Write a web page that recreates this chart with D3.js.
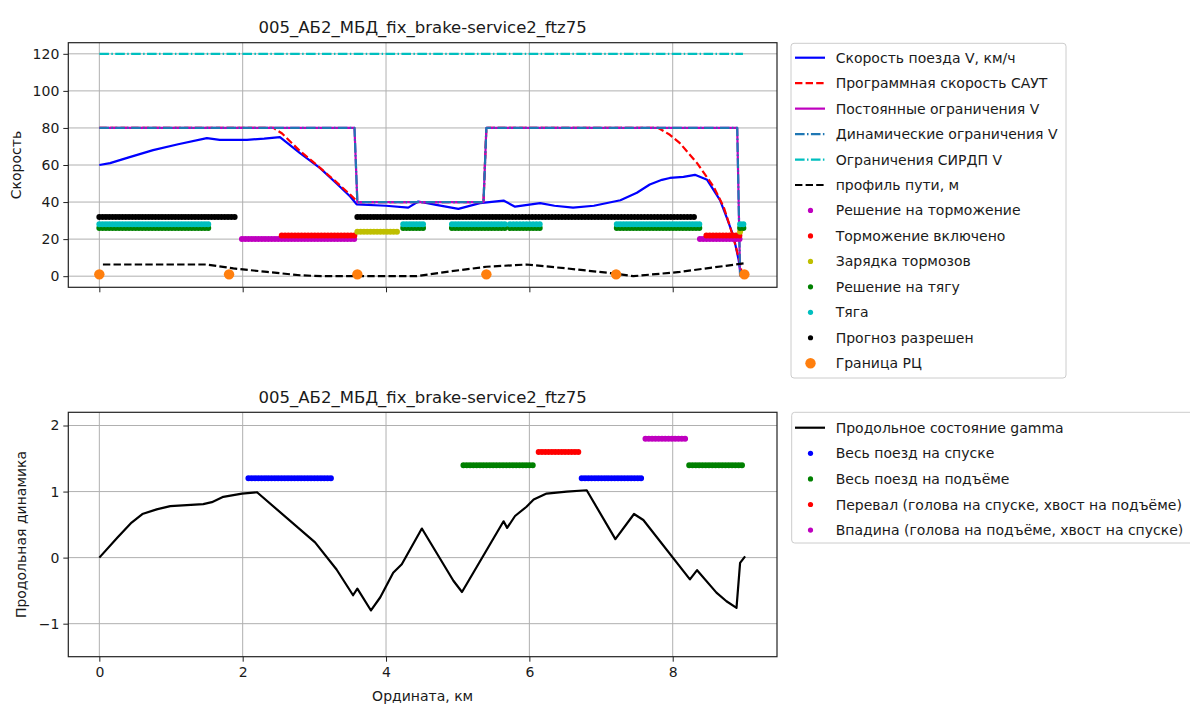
<!DOCTYPE html>
<html><head><meta charset="utf-8">
<script src="https://cdn.jsdelivr.net/npm/d3@7/dist/d3.min.js"></script>
<style>
html,body{margin:0;padding:0;background:#fff;}
svg{display:block;font-family:"DejaVu Sans",sans-serif;}
</style></head>
<body>
<svg id="c" width="1190" height="707"></svg>
<script>
// ---------------- DATA ----------------
const chartTitle = "005_АБ2_МБД_fix_brake-service2_ftz75";
const xTicks = [0, 2, 4, 6, 8];
const yTicksTop = [0, 20, 40, 60, 80, 100, 120];
const yTicksBottom = [-1, 0, 1, 2];

// train speed V, km/h  [km, value]
const speedV = [[0,60],[0.15,61],[0.4,64],[0.75,68],[1.1,71.2],[1.5,74.5],[1.68,73.6],[2.06,73.6],[2.3,74.2],[2.52,75],
  [2.8,66.4],[3.08,58.3],[3.31,50],[3.5,43],[3.59,38.8],[4.0,38],[4.31,37],[4.45,40.3],[4.7,38.5],[5.01,36.3],[5.31,39.4],
  [5.64,40.8],[5.8,37.5],[6.15,39.4],[6.35,38],[6.61,37],[6.9,38],[7.27,41],[7.5,45],[7.68,49.5],[7.85,52],[7.96,53],
  [8.15,53.6],[8.31,54.7],[8.48,52],[8.66,41],[8.75,32],[8.85,21.3],[8.92,8.7],[8.95,0.5]];
// programme speed САУТ
const progSpeed = [[0,80],[2.43,80],[2.55,77],[2.8,67.5],[3.05,59.5],[3.3,51],[3.5,44],[3.58,41],[3.6,40],[5.36,40],[5.4,80],
  [7.8,80],[7.96,76.3],[8.1,71.8],[8.34,61],[8.57,48.3],[8.71,37.5],[8.8,26.7],[8.88,16],[8.94,7],[8.97,0]];
// constant speed limits
const constLimit = [[0,80],[3.56,80],[3.6,40],[5.36,40],[5.4,80],[8.9,80],[8.94,0]];
// dynamic speed limits
const dynLimit = [[0,80],[3.56,80],[3.6,40],[5.36,40],[5.4,80],[8.9,80],[8.94,0]];
// СИРДП limits
const sirdpLimit = [[0,120],[8.98,120]];
// track profile, m
const trackProfile = [[0.05,6.3],[1.5,6.3],[1.87,4.2],[2.34,2.3],[2.8,0.5],[3.1,0],[4.43,0],[4.9,2.6],[5.4,5.1],[5.96,6.3],
  [6.52,4.2],[7.17,1.5],[7.45,0],[8.1,2.3],[8.99,6.9]];

// state markers: [start km, end km] at a fixed level
const brakeDecisionSeg = [[1.99,3.59],[8.38,8.94]];          // level 20
const brakeOnSeg = [[2.545,3.59],[8.47,8.94]];               // level 22
const brakeChargeSeg = [[3.6,4.17],[8.94,8.96]];             // level 24
const tractionDecisionSeg = [[0,1.53],[4.24,4.54],[4.92,5.68],[5.73,6.17],[7.22,8.38],[8.94,9.02]]; // level 26
const tractionSeg = [[0,1.53],[4.24,4.54],[4.92,5.68],[5.73,6.17],[7.22,8.38],[8.94,9.02]];         // level 28
const forecastSeg = [[0,1.93],[3.6,8.31]];                   // level 32
const levels = {brakeDecision:20, brakeOn:22, brakeCharge:24, tractionDecision:26, traction:28, forecast:32};
// track circuit boundaries
const rcBoundX = [0, 1.81, 3.6, 5.4, 7.21, 9.0];
const rcBoundY = 1;

// longitudinal state gamma
const gamma = [[0,0],[0.25,0.3],[0.45,0.53],[0.6,0.66],[0.8,0.73],[0.99,0.78],[1.45,0.81],[1.57,0.84],[1.73,0.92],[1.99,0.97],[2.2,0.99],
  [3.01,0.23],[3.31,-0.18],[3.54,-0.57],[3.6,-0.47],[3.79,-0.8],[3.92,-0.6],[4.1,-0.23],[4.22,-0.1],[4.5,0.44],[4.94,-0.35],
  [5.06,-0.52],[5.64,0.55],[5.69,0.45],[5.8,0.63],[5.96,0.77],[6.06,0.88],[6.24,0.97],[6.52,1.0],[6.8,1.02],[7.2,0.28],
  [7.46,0.66],[7.59,0.57],[8.24,-0.33],[8.34,-0.19],[8.61,-0.53],[8.75,-0.66],[8.89,-0.76],[8.94,-0.08],[9.01,0.02]];
const descentSeg = [[2.08,3.24],[6.73,7.58]];   // 1.2
const ascentSeg = [[5.08,6.08],[8.23,8.98]];    // 1.4
const passSeg = [[6.13,6.69]];                  // 1.6
const valleySeg = [[7.62,8.18]];                // 1.8
const levels2 = {descent:1.2, ascent:1.4, pass:1.6, valley:1.8};

const legendTop = ["Скорость поезда V, км/ч","Программная скорость САУТ","Постоянные ограничения V","Динамические ограничения V",
  "Ограничения СИРДП V","профиль пути, м","Решение на торможение","Торможение включено","Зарядка тормозов",
  "Решение на тягу","Тяга","Прогноз разрешен","Граница РЦ"];
const legendBottom = ["Продольное состояние gamma","Весь поезд на спуске","Весь поезд на подъёме",
  "Перевал (голова на спуске, хвост на подъёме)","Впадина (голова на подъёме, хвост на спуске)"];

// ---------------- STYLE ----------------
const C = {blue:"#0000ff", red:"#ff0000", mag:"#bf00bf", c0:"#1f77b4", cyan:"#00bfbf", black:"#000000",
  olive:"#bfbf00", green:"#008000", orange:"#ff7f0e"};
const DASH = "7.4,3.2", DASHDOT = "9.6,2.4,1.5,2.4";
const LW = 2.2;

const svg = d3.select("#c");
const X0 = 68.3, X1 = 777;
const x = d3.scaleLinear().domain([-0.433, 9.455]).range([X0, X1]);
const yT = d3.scaleLinear().domain([-6, 126]).range([287.3, 42.7]);
const yB = d3.scaleLinear().domain([-1.5, 2.2]).range([656.7, 412.3]);

function frame(y, yTicks, id){
  const g = svg.append("g");
  const [b, t] = y.range();
  g.selectAll(null).data(xTicks).join("line").attr("x1",d=>x(d)).attr("x2",d=>x(d)).attr("y1",t).attr("y2",b)
    .attr("stroke","#b0b0b0").attr("stroke-width",1);
  g.selectAll(null).data(yTicks).join("line").attr("x1",X0).attr("x2",X1).attr("y1",d=>y(d)).attr("y2",d=>y(d))
    .attr("stroke","#b0b0b0").attr("stroke-width",1);
  svg.append("clipPath").attr("id",id).append("rect").attr("x",X0).attr("y",t).attr("width",X1-X0).attr("height",b-t);
  return g;
}
function axes(y, yTicks, yFmt, showXLabels){
  const [b, t] = y.range();
  const ax = svg.append("g").attr("transform",`translate(0,${b})`)
    .call(d3.axisBottom(x).tickValues(xTicks).tickSize(5).tickPadding(5).tickFormat(showXLabels ? d3.format("d") : ""));
  const ay = svg.append("g").attr("transform",`translate(${X0},0)`)
    .call(d3.axisLeft(y).tickValues(yTicks).tickSize(5).tickPadding(4).tickFormat(yFmt));
  [ax, ay].forEach(a=>{
    a.select(".domain").remove();
    a.selectAll("line").attr("stroke","#222").attr("stroke-width",1);
    a.selectAll("text").attr("font-size","14px").attr("fill","#1a1a1a").attr("font-family","DejaVu Sans");
  });
  svg.append("rect").attr("x",X0).attr("y",t).attr("width",X1-X0).attr("height",b-t)
    .attr("fill","none").attr("stroke","#222").attr("stroke-width",1.2);
}

function linePath(g, data, y, color, w, dash){
  g.append("path").datum(data).attr("d", d3.line().x(d=>x(d[0])).y(d=>y(d[1])))
    .attr("fill","none").attr("stroke",color).attr("stroke-width",w).attr("stroke-dasharray",dash||null)
    .attr("stroke-linejoin","round");
}
function dotBands(g, segs, level, y, color, size){
  g.selectAll(null).data(segs).join("line")
    .attr("x1",d=>x(d[0])).attr("x2",d=>x(d[1])).attr("y1",y(level)).attr("y2",y(level))
    .attr("stroke",color).attr("stroke-width",size).attr("stroke-linecap","round").attr("stroke-dasharray","0,3.3");
}

// ---------- TOP ----------
frame(yT, yTicksTop, "clipT");
const pT = svg.append("g").attr("clip-path","url(#clipT)");
linePath(pT, speedV, yT, C.blue, LW);
linePath(pT, progSpeed, yT, C.red, LW, DASH);
linePath(pT, constLimit, yT, C.mag, LW);
linePath(pT, dynLimit, yT, C.c0, LW, DASHDOT);
linePath(pT, sirdpLimit, yT, C.cyan, LW, DASHDOT);
linePath(pT, trackProfile, yT, C.black, LW, DASH);
dotBands(pT, brakeDecisionSeg, levels.brakeDecision, yT, C.mag, 6);
dotBands(pT, brakeOnSeg, levels.brakeOn, yT, C.red, 6);
dotBands(pT, brakeChargeSeg, levels.brakeCharge, yT, C.olive, 6);
dotBands(pT, tractionDecisionSeg, levels.tractionDecision, yT, C.green, 6);
dotBands(pT, tractionSeg, levels.traction, yT, C.cyan, 6);
dotBands(pT, forecastSeg, levels.forecast, yT, C.black, 6);
pT.selectAll(null).data(rcBoundX).join("circle").attr("cx",d=>x(d)).attr("cy",yT(rcBoundY)).attr("r",5.2).attr("fill",C.orange);
axes(yT, yTicksTop, d3.format("d"), false);

// ---------- BOTTOM ----------
frame(yB, yTicksBottom, "clipB");
const pB = svg.append("g").attr("clip-path","url(#clipB)");
linePath(pB, gamma, yB, C.black, LW);
dotBands(pB, descentSeg, levels2.descent, yB, C.blue, 6);
dotBands(pB, ascentSeg, levels2.ascent, yB, C.green, 6);
dotBands(pB, passSeg, levels2.pass, yB, C.red, 6);
dotBands(pB, valleySeg, levels2.valley, yB, C.mag, 6);
axes(yB, yTicksBottom, d=>d<0 ? "\u2212"+Math.abs(d) : String(d), true);

// titles & labels
const tx = (X0+X1)/2;
svg.append("text").attr("x",tx).attr("y",33.3).attr("text-anchor","middle").attr("font-size","16.5px").attr("fill","#1a1a1a").text(chartTitle);
svg.append("text").attr("x",tx).attr("y",402.7).attr("text-anchor","middle").attr("font-size","16.5px").attr("fill","#1a1a1a").text(chartTitle);
svg.append("text").attr("transform",`translate(21,165) rotate(-90)`).attr("text-anchor","middle").attr("font-size","14px").attr("fill","#1a1a1a").text("Скорость");
svg.append("text").attr("transform",`translate(25.5,534.5) rotate(-90)`).attr("text-anchor","middle").attr("font-size","14px").attr("fill","#1a1a1a").text("Продольная динамика");
svg.append("text").attr("x",tx).attr("y",701).attr("text-anchor","middle").attr("font-size","14px").attr("fill","#1a1a1a").text("Ордината, км");

// ---------- LEGENDS ----------
function legend(x0, y0, w, h, rowY0, step, labels, handles){
  const g = svg.append("g");
  g.append("rect").attr("x",x0).attr("y",y0).attr("width",w).attr("height",h).attr("rx",3)
    .attr("fill","#fff").attr("fill-opacity",0.8).attr("stroke","#cccccc").attr("stroke-width",1);
  labels.forEach((lab,i)=>{
    const cy = rowY0 + i*step, hd = handles[i];
    if(hd.type==="line"){
      g.append("line").attr("x1",795).attr("x2",825).attr("y1",cy).attr("y2",cy).attr("stroke",hd.color)
        .attr("stroke-width",LW).attr("stroke-dasharray",hd.dash||null);
    } else {
      g.append("circle").attr("cx",810.5).attr("cy",cy).attr("r",hd.r).attr("fill",hd.color);
    }
    g.append("text").attr("x",835.7).attr("y",cy+5).attr("font-size","14px").attr("fill","#1a1a1a").text(lab);
  });
}
legend(791, 43.3, 275, 334.7, 57.7, 25.46, legendTop, [
  {type:"line",color:C.blue},{type:"line",color:C.red,dash:DASH},{type:"line",color:C.mag},
  {type:"line",color:C.c0,dash:DASHDOT},{type:"line",color:C.cyan,dash:DASHDOT},{type:"line",color:C.black,dash:DASH},
  {type:"dot",color:C.mag,r:2.6},{type:"dot",color:C.red,r:2.6},{type:"dot",color:C.olive,r:2.6},
  {type:"dot",color:C.green,r:2.6},{type:"dot",color:C.cyan,r:2.6},{type:"dot",color:C.black,r:2.6},
  {type:"dot",color:C.orange,r:5.2}]);
legend(791.7, 412.3, 410, 130.7, 427.7, 25.6, legendBottom, [
  {type:"line",color:C.black},{type:"dot",color:C.blue,r:2.6},{type:"dot",color:C.green,r:2.6},
  {type:"dot",color:C.red,r:2.6},{type:"dot",color:C.mag,r:2.6}]);
</script>
</body></html>
